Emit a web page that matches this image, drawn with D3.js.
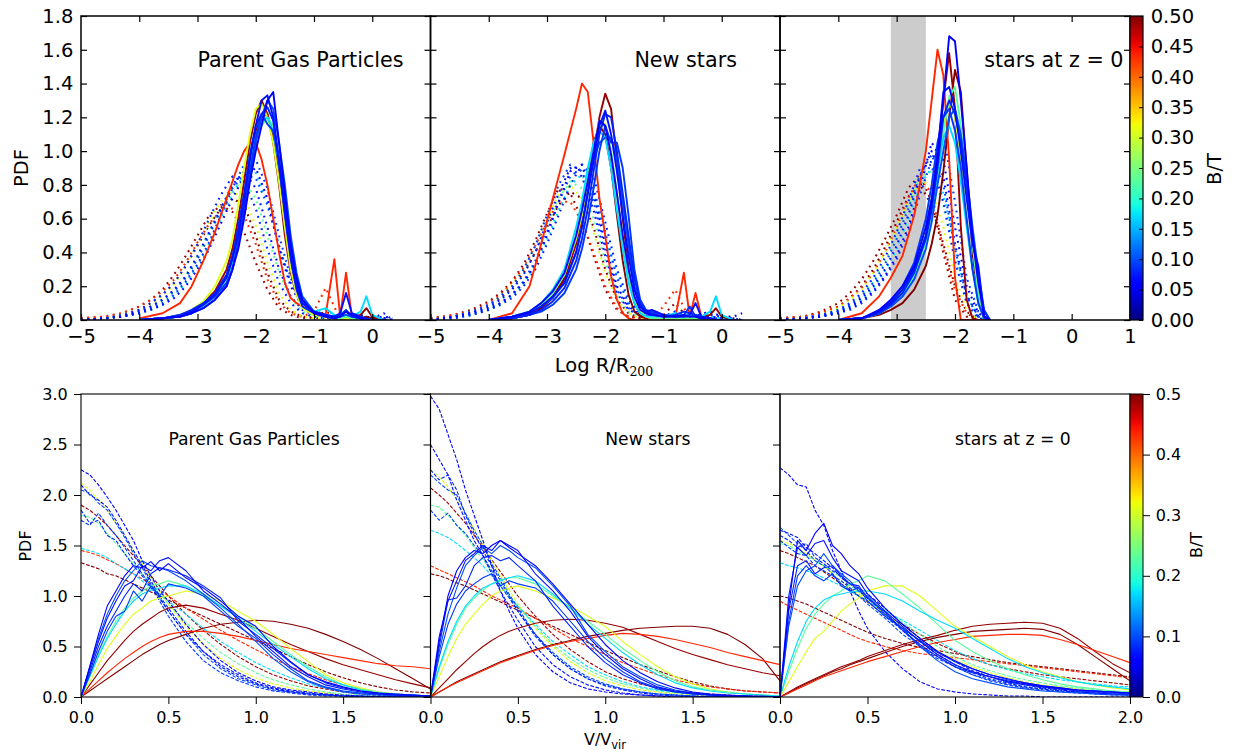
<!DOCTYPE html>
<html><head><meta charset="utf-8">
<script src="https://cdn.jsdelivr.net/npm/d3@7"></script>
<style>
body{margin:0;background:#fff}
svg{display:block;font-family:"DejaVu Sans",sans-serif}
</style>
</head><body>
<svg id="c" width="1235" height="754"></svg>
<script>
// Bulge-to-total ratio of each galaxy (sets the line colour)
const btValues = [0.06, 0.07, 0.08, 0.09, 0.10, 0.17, 0.23, 0.31, 0.435, 0.49, 0.50];

// Sampling grids
const logRSolidGrid = [-4.0,-3.6,-3.3,-3.1,-2.9,-2.7,-2.5,-2.4,-2.3,-2.2,-2.1,-2.0,-1.9,-1.8,-1.7,-1.6,-1.5,-1.4,-1.3,-1.2,-1.0,-0.8,-0.65,-0.55,-0.45,-0.35,-0.2,-0.1,0.0,0.2];
const logRDottedGrid = [-5.0,-4.6,-4.3,-4.0,-3.8,-3.6,-3.4,-3.2,-3.0,-2.8,-2.6,-2.4,-2.2,-2.0,-1.8,-1.6,-1.4,-1.2,-1.0,-0.8,-0.6,-0.4,-0.2,0.0,0.2,0.35];
const velocityGrid = [0,0.05,0.1,0.15,0.2,0.25,0.3,0.35,0.4,0.45,0.5,0.6,0.7,0.8,0.9,1.0,1.1,1.2,1.3,1.4,1.5,1.6,1.7,1.8,1.9,2.0];

// Tick values
const logRTicks = [-5,-4,-3,-2,-1,0,1];
const pdfTicksTop = [0,0.2,0.4,0.6,0.8,1.0,1.2,1.4,1.6,1.8];
const velTicks = [0,0.5,1.0,1.5,2.0];
const pdfTicksBottom = [0,0.5,1.0,1.5,2.0,2.5,3.0];
const cbarTicksTop = [0,0.05,0.1,0.15,0.2,0.25,0.3,0.35,0.4,0.45,0.5];
const cbarTicksBottom = [0,0.1,0.2,0.3,0.4,0.5];

// Shaded range of log R/R200 in the z = 0 panel
const bandLogR = [-3.1, -2.5];

// ---- radial PDFs: solid = one population, dotted = comparison population ----
const gasRadiusSolid = [
  [0,0.01,0.02,0.04,0.07,0.12,0.2,0.3,0.42,0.6,0.82,1.0,1.15,1.3,1.35,1.05,0.75,0.45,0.25,0.12,0.04,0.02,0.01,0.02,0.05,0.03,0.01,0,0,0],
  [0,0.01,0.02,0.05,0.09,0.15,0.25,0.36,0.5,0.7,0.95,1.15,1.3,1.33,1.2,0.95,0.65,0.38,0.2,0.1,0.05,0.03,0.02,0.04,0.16,0.04,0.02,0.01,0,0],
  [0,0.01,0.03,0.06,0.1,0.16,0.27,0.38,0.55,0.75,0.98,1.15,1.22,1.26,1.18,0.92,0.62,0.36,0.18,0.08,0.04,0.02,0.01,0.02,0.05,0.02,0.01,0,0,0],
  [0,0.01,0.03,0.05,0.09,0.14,0.22,0.3,0.45,0.65,0.88,1.08,1.22,1.16,1.12,0.95,0.7,0.42,0.22,0.1,0.05,0.03,0.02,0.03,0.06,0.02,0.01,0,0,0],
  [0,0.01,0.02,0.04,0.07,0.12,0.2,0.3,0.45,0.62,0.85,1.05,1.2,1.3,1.25,1.05,0.8,0.5,0.28,0.14,0.05,0.03,0.02,0.02,0.03,0.02,0.01,0,0,0],
  [0,0.01,0.02,0.04,0.08,0.14,0.22,0.32,0.48,0.68,0.9,1.08,1.18,1.2,1.12,0.92,0.65,0.4,0.22,0.12,0.05,0.07,0.03,0.02,0.03,0.02,0.05,0.14,0.03,0],
  [0,0.01,0.02,0.04,0.08,0.14,0.24,0.34,0.5,0.7,0.92,1.08,1.15,1.2,1.15,0.98,0.72,0.45,0.25,0.12,0.04,0.02,0.01,0.01,0.02,0.01,0,0,0,0],
  [0,0.01,0.03,0.06,0.11,0.2,0.35,0.48,0.68,0.9,1.1,1.25,1.28,1.2,1.05,0.82,0.55,0.3,0.15,0.07,0.03,0.02,0.01,0.01,0.01,0,0,0,0,0],
  [0.01,0.04,0.1,0.2,0.35,0.52,0.72,0.82,0.92,1.0,1.05,1.05,0.95,0.8,0.6,0.4,0.22,0.13,0.1,0.08,0.04,0.03,0.36,0.02,0.28,0.02,0.01,0,0,0],
  [0,0.01,0.02,0.05,0.1,0.17,0.3,0.42,0.6,0.82,1.05,1.22,1.3,1.22,1.05,0.8,0.5,0.28,0.15,0.08,0.04,0.02,0.01,0.01,0.01,0.02,0.03,0.07,0.02,0],
  [0,0.01,0.02,0.04,0.08,0.14,0.25,0.36,0.52,0.72,0.95,1.12,1.2,1.22,1.1,0.88,0.6,0.35,0.18,0.08,0.03,0.02,0.01,0.01,0.01,0.01,0.01,0.02,0.01,0]
];
const gasRadiusDotted = [
  [0,0.01,0.02,0.04,0.06,0.09,0.13,0.2,0.3,0.42,0.57,0.72,0.85,0.9,0.72,0.42,0.2,0.08,0.04,0.02,0.01,0.02,0.03,0.01,0.02,0.01],
  [0,0.01,0.02,0.05,0.08,0.12,0.18,0.26,0.38,0.52,0.66,0.8,0.88,0.78,0.55,0.3,0.14,0.06,0.03,0.02,0.01,0.01,0.01,0.02,0.01,0],
  [0,0.01,0.03,0.06,0.1,0.15,0.22,0.32,0.45,0.6,0.74,0.85,0.82,0.66,0.42,0.22,0.1,0.04,0.02,0.01,0.01,0.02,0.01,0.01,0.04,0],
  [0,0.01,0.02,0.04,0.07,0.1,0.15,0.23,0.33,0.46,0.62,0.78,0.92,0.95,0.78,0.5,0.25,0.1,0.04,0.02,0.01,0.01,0,0.02,0,0],
  [0,0.01,0.02,0.05,0.08,0.12,0.17,0.25,0.36,0.5,0.65,0.78,0.86,0.84,0.68,0.44,0.22,0.1,0.05,0.03,0.02,0.02,0.01,0.01,0.01,0],
  [0,0.01,0.02,0.04,0.06,0.09,0.14,0.22,0.32,0.45,0.6,0.75,0.86,0.87,0.7,0.44,0.22,0.1,0.04,0.06,0.02,0.01,0.02,0.01,0,0],
  [0,0.01,0.02,0.04,0.07,0.11,0.17,0.26,0.38,0.52,0.66,0.78,0.82,0.72,0.5,0.28,0.13,0.05,0.02,0.01,0.01,0,0,0,0,0],
  [0,0.01,0.03,0.06,0.09,0.14,0.21,0.32,0.45,0.58,0.7,0.76,0.72,0.56,0.34,0.16,0.06,0.02,0.01,0.01,0,0,0,0,0,0],
  [0.01,0.02,0.04,0.08,0.12,0.17,0.24,0.34,0.46,0.57,0.65,0.66,0.62,0.45,0.24,0.1,0.04,0.02,0.05,0.19,0.04,0.01,0,0,0,0],
  [0.01,0.02,0.04,0.08,0.12,0.18,0.27,0.38,0.5,0.62,0.68,0.64,0.52,0.34,0.18,0.07,0.03,0.01,0.02,0.05,0.02,0.01,0.01,0.01,0.01,0],
  [0,0.01,0.03,0.06,0.1,0.15,0.22,0.32,0.44,0.56,0.66,0.72,0.68,0.5,0.28,0.12,0.05,0.02,0.01,0.01,0,0,0,0,0,0]
];
const newRadiusSolid = [
  [0,0.02,0.05,0.1,0.17,0.28,0.5,0.65,0.82,1.0,1.18,1.15,0.98,0.75,0.5,0.3,0.14,0.06,0.04,0.03,0.02,0.02,0.03,0.02,0.02,0.01,0.01,0,0,0],
  [0,0.02,0.04,0.08,0.14,0.22,0.4,0.55,0.75,0.95,1.15,1.24,1.1,0.88,0.62,0.38,0.18,0.08,0.05,0.06,0.03,0.02,0.02,0.03,0.1,0.02,0.01,0,0,0],
  [0,0.01,0.03,0.06,0.11,0.19,0.35,0.48,0.66,0.88,1.1,1.22,1.2,1.0,0.75,0.5,0.25,0.1,0.05,0.04,0.02,0.03,0.05,0.04,0.03,0.02,0.01,0,0,0],
  [0,0.01,0.03,0.05,0.09,0.16,0.3,0.42,0.58,0.78,1.0,1.15,1.05,1.05,0.9,0.62,0.3,0.12,0.06,0.05,0.03,0.02,0.03,0.08,0.02,0.01,0.01,0,0,0],
  [0,0.02,0.04,0.08,0.13,0.22,0.4,0.55,0.75,0.95,1.05,1.08,1.08,0.95,0.7,0.45,0.2,0.08,0.04,0.03,0.02,0.02,0.02,0.02,0.03,0.02,0.01,0,0,0],
  [0,0.02,0.05,0.1,0.18,0.3,0.55,0.7,0.9,1.05,1.12,1.08,0.9,0.65,0.42,0.22,0.1,0.04,0.02,0.02,0.02,0.04,0.03,0.03,0.02,0.02,0.05,0.14,0.03,0],
  [0,0.02,0.05,0.09,0.16,0.27,0.5,0.65,0.85,1.02,1.15,1.15,1.0,0.75,0.48,0.25,0.1,0.04,0.02,0.01,0.01,0.01,0.01,0.01,0.01,0,0,0,0,0],
  [0,0.02,0.04,0.09,0.16,0.27,0.48,0.62,0.82,1.0,1.18,1.16,1.0,0.75,0.5,0.28,0.12,0.05,0.02,0.01,0.01,0.01,0,0,0,0,0,0,0,0],
  [0,0.04,0.2,0.45,0.72,0.98,1.25,1.4,1.35,1.05,0.72,0.5,0.26,0.12,0.04,0.01,0,0,0,0,0,0.01,0.28,0.02,0.16,0.02,0.01,0,0,0],
  [0,0.01,0.03,0.07,0.13,0.24,0.45,0.6,0.78,0.98,1.2,1.34,1.25,0.95,0.6,0.3,0.1,0.03,0.01,0.01,0.01,0.01,0.01,0.01,0.02,0.02,0.03,0.07,0.02,0],
  [0,0.01,0.03,0.07,0.14,0.25,0.47,0.62,0.85,1.05,1.15,1.1,0.9,0.62,0.35,0.15,0.05,0.02,0.01,0.01,0.01,0.01,0.01,0.01,0.01,0,0,0,0,0]
];
const newRadiusDotted = [
  [0,0.02,0.04,0.07,0.1,0.15,0.22,0.33,0.5,0.7,0.88,0.92,0.75,0.45,0.2,0.08,0.03,0.02,0.02,0.03,0.02,0.03,0.05,0.02,0.02,0.04],
  [0,0.02,0.04,0.08,0.12,0.18,0.27,0.4,0.58,0.75,0.9,0.85,0.65,0.38,0.16,0.06,0.03,0.02,0.02,0.02,0.02,0.02,0.02,0.01,0.01,0],
  [0,0.01,0.03,0.06,0.09,0.13,0.2,0.3,0.45,0.62,0.8,0.92,0.85,0.58,0.3,0.12,0.04,0.02,0.02,0.05,0.02,0.02,0.03,0.02,0.01,0],
  [0,0.02,0.05,0.09,0.14,0.2,0.3,0.44,0.62,0.8,0.92,0.88,0.7,0.42,0.18,0.07,0.03,0.02,0.02,0.03,0.02,0.01,0.01,0.01,0,0],
  [0,0.01,0.03,0.06,0.1,0.15,0.23,0.35,0.52,0.7,0.85,0.9,0.78,0.52,0.25,0.1,0.04,0.02,0.02,0.02,0.02,0.02,0.02,0.01,0,0],
  [0,0.01,0.03,0.06,0.09,0.14,0.22,0.33,0.48,0.65,0.8,0.86,0.75,0.5,0.26,0.1,0.04,0.02,0.02,0.05,0.03,0.02,0.02,0.01,0,0],
  [0,0.02,0.04,0.08,0.12,0.18,0.27,0.4,0.56,0.72,0.82,0.78,0.6,0.35,0.15,0.05,0.02,0.01,0.01,0.01,0,0,0,0,0,0],
  [0,0.02,0.05,0.09,0.14,0.21,0.3,0.44,0.6,0.74,0.8,0.72,0.52,0.28,0.12,0.04,0.01,0.01,0.01,0.01,0,0,0,0,0,0],
  [0.01,0.03,0.05,0.1,0.15,0.22,0.31,0.44,0.58,0.7,0.7,0.58,0.4,0.2,0.07,0.02,0.01,0.01,0.08,0.18,0.04,0.01,0,0,0,0],
  [0.01,0.03,0.06,0.11,0.16,0.23,0.33,0.47,0.63,0.78,0.75,0.6,0.38,0.18,0.06,0.02,0.01,0.01,0.03,0.1,0.02,0.01,0,0,0,0],
  [0.01,0.02,0.05,0.09,0.13,0.19,0.28,0.4,0.55,0.68,0.76,0.72,0.55,0.3,0.12,0.04,0.01,0.01,0.01,0.02,0,0,0,0,0,0]
];
const z0RadiusSolid = [
  [0,0.01,0.06,0.12,0.2,0.32,0.55,0.72,0.95,1.3,1.68,1.65,1.3,0.9,0.5,0.22,0.02,0],
  [0,0.01,0.05,0.1,0.18,0.3,0.5,0.7,0.98,1.35,1.38,1.25,1.0,0.72,0.45,0.32,0.02,0],
  [0,0.01,0.04,0.09,0.16,0.28,0.48,0.65,0.9,1.2,1.3,1.22,1.05,0.8,0.5,0.24,0.05,0],
  [0,0.01,0.05,0.11,0.2,0.34,0.6,0.8,1.05,1.2,1.25,1.12,0.9,0.6,0.3,0.1,0.01,0],
  [0,0.01,0.04,0.08,0.14,0.24,0.42,0.58,0.8,1.0,1.2,1.25,1.1,0.85,0.55,0.28,0.06,0],
  [0,0.01,0.04,0.09,0.16,0.28,0.5,0.66,0.88,1.08,1.15,1.05,0.82,0.55,0.3,0.1,0.01,0],
  [0,0.01,0.04,0.08,0.15,0.26,0.46,0.62,0.85,1.1,1.32,1.38,1.15,0.8,0.45,0.15,0.02,0],
  [0,0.01,0.05,0.1,0.18,0.31,0.55,0.72,0.95,1.15,1.3,1.2,0.95,0.6,0.3,0.1,0.01,0],
  [0,0.04,0.14,0.25,0.38,0.62,1.0,1.3,1.6,1.45,0.95,0.25,0,0,0,0,0,0],
  [0,0.01,0.04,0.08,0.14,0.25,0.48,0.7,1.0,1.3,1.58,1.25,0.55,0.12,0.01,0,0,0],
  [0,0.01,0.03,0.06,0.1,0.18,0.32,0.45,0.62,0.88,1.2,1.48,1.35,0.9,0.4,0.1,0.01,0]
];
const z0RadiusDotted = [
  [0,0.01,0.02,0.04,0.07,0.11,0.17,0.26,0.38,0.55,0.78,1.05,0.95,0.55,0.2,0.04,0],
  [0,0.01,0.02,0.05,0.08,0.13,0.2,0.3,0.44,0.62,0.85,1.0,0.85,0.45,0.15,0.02,0],
  [0,0.01,0.03,0.06,0.1,0.16,0.25,0.37,0.52,0.7,0.9,0.92,0.7,0.35,0.1,0.01,0],
  [0,0.01,0.02,0.04,0.06,0.1,0.16,0.25,0.36,0.52,0.74,0.95,1.1,0.7,0.25,0.05,0],
  [0,0.01,0.03,0.05,0.09,0.14,0.22,0.33,0.48,0.66,0.86,0.98,0.8,0.42,0.14,0.02,0],
  [0,0.01,0.02,0.05,0.08,0.12,0.19,0.29,0.42,0.6,0.8,0.9,0.75,0.42,0.14,0.02,0],
  [0,0.01,0.03,0.06,0.1,0.15,0.23,0.35,0.5,0.68,0.85,0.88,0.68,0.35,0.1,0.01,0],
  [0,0.01,0.03,0.07,0.12,0.18,0.28,0.4,0.55,0.7,0.82,0.8,0.55,0.25,0.06,0,0],
  [0.01,0.02,0.04,0.08,0.13,0.19,0.28,0.4,0.55,0.72,0.85,0.75,0.42,0.18,0.04,0,0],
  [0.01,0.02,0.05,0.1,0.16,0.24,0.35,0.48,0.62,0.78,0.86,0.7,0.4,0.12,0.02,0,0],
  [0.01,0.02,0.04,0.08,0.13,0.2,0.3,0.43,0.58,0.73,0.8,0.68,0.45,0.2,0.05,0,0]
];

// ---- velocity PDFs: solid = one population, dashed = comparison population ----
const gasVelSolid = [
  [0,0.3,0.62,0.9,1.05,1.2,1.3,1.28,1.34,1.25,1.32,1.18,1.08,0.95,0.8,0.7,0.5,0.35,0.22,0.15,0.1,0.06,0.04,0.03,0.02,0.01],
  [0,0.28,0.55,0.78,0.95,1.1,1.15,1.3,1.25,1.35,1.38,1.25,1.05,0.92,0.78,0.6,0.45,0.3,0.2,0.12,0.08,0.05,0.03,0.02,0.01,0.01],
  [0,0.25,0.5,0.7,0.85,1.0,1.12,1.05,1.22,1.28,1.26,1.2,1.1,0.98,0.75,0.62,0.48,0.34,0.22,0.14,0.09,0.06,0.04,0.02,0.02,0.01],
  [0,0.22,0.45,0.65,0.8,0.85,1.05,0.95,1.1,1.0,1.12,1.08,1.0,0.85,0.7,0.58,0.42,0.28,0.16,0.1,0.06,0.04,0.03,0.02,0.01,0.01],
  [0,0.3,0.58,0.82,1.0,1.15,1.25,1.35,1.3,1.28,1.25,1.15,1.02,0.88,0.72,0.55,0.38,0.25,0.15,0.09,0.05,0.03,0.02,0.01,0.01,0],
  [0,0.2,0.4,0.58,0.72,0.85,0.95,1.02,1.06,1.08,1.1,1.1,1.02,0.9,0.78,0.65,0.52,0.4,0.28,0.18,0.12,0.07,0.04,0.03,0.02,0.01],
  [0,0.22,0.42,0.6,0.75,0.88,0.98,1.05,1.1,1.12,1.15,1.1,1.0,0.9,0.8,0.68,0.55,0.42,0.3,0.2,0.12,0.08,0.05,0.03,0.02,0.01],
  [0,0.15,0.32,0.48,0.6,0.72,0.82,0.88,0.95,0.98,1.0,1.05,1.02,0.95,0.85,0.75,0.62,0.48,0.35,0.22,0.14,0.09,0.05,0.03,0.02,0.01],
  [0,0.08,0.16,0.24,0.31,0.38,0.44,0.5,0.55,0.59,0.62,0.65,0.65,0.63,0.6,0.56,0.52,0.48,0.45,0.42,0.39,0.36,0.33,0.31,0.3,0.28],
  [0,0.12,0.24,0.36,0.46,0.56,0.65,0.72,0.78,0.84,0.88,0.91,0.88,0.82,0.76,0.68,0.6,0.52,0.45,0.38,0.32,0.27,0.22,0.17,0.13,0.09],
  [0,0.06,0.12,0.18,0.24,0.3,0.36,0.42,0.47,0.52,0.56,0.62,0.68,0.72,0.74,0.76,0.75,0.72,0.68,0.62,0.55,0.47,0.38,0.28,0.18,0.08]
];
const gasVelDashed = [
  [2.25,2.2,2.1,1.98,1.85,1.7,1.55,1.35,1.2,1.05,0.95,0.72,0.52,0.36,0.24,0.16,0.1,0.07,0.05,0.03,0.02,0.01,0.01,0,0,0],
  [2.1,2.0,1.95,1.88,1.75,1.6,1.45,1.3,1.15,1.0,0.88,0.65,0.45,0.3,0.2,0.13,0.08,0.05,0.03,0.02,0.01,0.01,0,0,0,0],
  [1.85,1.72,1.75,1.6,1.55,1.42,1.3,1.2,1.08,0.98,0.85,0.62,0.45,0.32,0.22,0.14,0.09,0.06,0.04,0.02,0.01,0.01,0,0,0,0],
  [1.75,1.7,1.82,1.7,1.6,1.48,1.35,1.22,1.1,0.95,0.8,0.55,0.36,0.24,0.16,0.1,0.06,0.04,0.02,0.01,0.01,0,0,0,0,0],
  [2.05,2.02,1.92,1.85,1.72,1.58,1.42,1.28,1.12,0.98,0.85,0.62,0.42,0.28,0.18,0.12,0.07,0.05,0.03,0.02,0.01,0,0,0,0,0],
  [1.47,1.45,1.42,1.38,1.32,1.27,1.22,1.15,1.08,1.02,0.95,0.82,0.68,0.55,0.44,0.34,0.26,0.19,0.13,0.09,0.06,0.04,0.03,0.02,0.01,0.01],
  [1.8,1.78,1.72,1.62,1.52,1.42,1.32,1.22,1.12,1.02,0.92,0.74,0.58,0.44,0.33,0.24,0.17,0.12,0.08,0.05,0.03,0.02,0.01,0.01,0,0],
  [2.12,2.05,1.95,1.85,1.72,1.6,1.45,1.32,1.18,1.05,0.92,0.7,0.52,0.38,0.27,0.19,0.13,0.09,0.06,0.04,0.02,0.01,0.01,0,0,0],
  [1.45,1.43,1.4,1.36,1.32,1.27,1.22,1.17,1.12,1.06,1.0,0.88,0.77,0.66,0.56,0.47,0.38,0.3,0.23,0.17,0.12,0.08,0.05,0.03,0.02,0.01],
  [1.9,1.85,1.78,1.7,1.6,1.5,1.4,1.3,1.2,1.1,1.0,0.82,0.66,0.52,0.4,0.3,0.22,0.16,0.11,0.08,0.05,0.03,0.02,0.01,0.01,0],
  [1.33,1.3,1.27,1.22,1.2,1.16,1.12,1.08,1.04,1.0,0.96,0.88,0.8,0.72,0.64,0.56,0.48,0.4,0.32,0.25,0.19,0.14,0.1,0.07,0.05,0.04]
];
const newVelSolid = [
  [0,0.55,1.0,1.25,1.38,1.45,1.42,1.5,1.55,1.48,1.42,1.3,1.12,0.92,0.72,0.52,0.36,0.24,0.15,0.09,0.05,0.03,0.02,0.01,0.01,0],
  [0,0.6,0.95,1.15,1.35,1.42,1.5,1.45,1.55,1.5,1.45,1.22,1.05,0.85,0.6,0.42,0.28,0.18,0.1,0.06,0.04,0.02,0.01,0.01,0,0],
  [0,0.5,0.96,0.98,1.1,1.3,1.38,1.4,1.35,1.38,1.3,1.15,0.9,0.7,0.5,0.34,0.22,0.14,0.08,0.05,0.03,0.02,0.01,0.01,0,0],
  [0,0.4,0.72,0.92,1.05,1.12,1.18,1.22,1.1,1.15,1.12,1.08,0.95,0.75,0.55,0.38,0.25,0.15,0.09,0.05,0.03,0.02,0.01,0,0,0],
  [0,0.45,0.82,1.08,1.3,1.4,1.48,1.42,1.5,1.45,1.38,1.28,1.1,0.9,0.62,0.45,0.3,0.2,0.12,0.07,0.04,0.02,0.01,0.01,0,0],
  [0,0.3,0.55,0.75,0.9,1.0,1.08,1.12,1.15,1.18,1.2,1.15,1.02,0.88,0.72,0.58,0.44,0.32,0.22,0.14,0.09,0.06,0.04,0.03,0.02,0.01],
  [0,0.28,0.52,0.72,0.88,0.98,1.06,1.12,1.16,1.18,1.18,1.12,1.0,0.88,0.75,0.62,0.48,0.36,0.25,0.16,0.1,0.07,0.05,0.03,0.02,0.01],
  [0,0.2,0.4,0.58,0.72,0.82,0.92,1.0,1.05,1.08,1.1,1.05,0.98,0.9,0.8,0.7,0.55,0.42,0.3,0.2,0.13,0.08,0.05,0.03,0.02,0.01],
  [0,0.05,0.1,0.14,0.18,0.22,0.26,0.3,0.34,0.37,0.4,0.46,0.51,0.55,0.58,0.61,0.63,0.62,0.6,0.57,0.53,0.49,0.44,0.4,0.36,0.32],
  [0,0.09,0.18,0.27,0.35,0.43,0.5,0.56,0.61,0.65,0.68,0.73,0.76,0.77,0.76,0.73,0.69,0.62,0.55,0.48,0.42,0.37,0.32,0.28,0.24,0.21],
  [0,0.05,0.1,0.15,0.19,0.23,0.27,0.31,0.35,0.38,0.41,0.47,0.52,0.56,0.6,0.63,0.66,0.68,0.69,0.7,0.7,0.68,0.62,0.52,0.38,0.16]
];
const newVelDashed = [
  [2.98,2.85,2.6,2.35,2.05,1.8,1.55,1.3,1.05,0.85,0.68,0.42,0.25,0.14,0.08,0.05,0.03,0.02,0.01,0,0,0,0,0,0,0],
  [2.5,2.35,2.2,1.95,1.75,1.55,1.4,1.22,1.05,0.9,0.76,0.5,0.32,0.2,0.12,0.07,0.04,0.02,0.01,0.01,0,0,0,0,0,0],
  [2.25,2.15,2.2,2.05,1.8,1.62,1.45,1.3,1.15,1.0,0.85,0.62,0.42,0.28,0.18,0.11,0.07,0.04,0.02,0.01,0.01,0,0,0,0,0],
  [1.85,1.75,1.82,1.7,1.62,1.5,1.4,1.25,1.1,0.98,0.85,0.6,0.42,0.28,0.18,0.12,0.08,0.05,0.03,0.02,0.01,0,0,0,0,0],
  [2.2,2.12,2.05,2.0,1.82,1.65,1.5,1.32,1.18,1.02,0.88,0.62,0.44,0.3,0.2,0.13,0.08,0.05,0.03,0.02,0.01,0.01,0,0,0,0],
  [1.65,1.62,1.58,1.52,1.45,1.38,1.3,1.2,1.1,1.0,0.9,0.72,0.55,0.42,0.3,0.22,0.15,0.1,0.07,0.05,0.03,0.02,0.01,0.01,0,0],
  [1.9,1.88,1.8,1.7,1.6,1.48,1.36,1.24,1.12,1.0,0.9,0.7,0.52,0.38,0.27,0.19,0.13,0.09,0.06,0.04,0.03,0.02,0.01,0.01,0,0],
  [2.25,2.18,2.08,1.95,1.82,1.66,1.5,1.35,1.2,1.06,0.92,0.68,0.5,0.35,0.24,0.16,0.11,0.07,0.05,0.03,0.02,0.01,0.01,0,0,0],
  [1.3,1.26,1.22,1.18,1.14,1.1,1.05,1.0,0.96,0.92,0.88,0.78,0.68,0.58,0.5,0.42,0.34,0.28,0.22,0.17,0.13,0.1,0.08,0.06,0.05,0.04],
  [2.07,2.0,1.92,1.82,1.72,1.6,1.48,1.36,1.24,1.12,1.0,0.8,0.62,0.47,0.35,0.25,0.18,0.13,0.09,0.06,0.04,0.03,0.02,0.01,0.01,0],
  [1.22,1.2,1.17,1.13,1.1,1.06,1.02,0.98,0.94,0.9,0.86,0.78,0.7,0.62,0.54,0.46,0.39,0.32,0.26,0.2,0.15,0.11,0.08,0.06,0.05,0.04]
];
const z0VelSolid = [
  [0,0.9,1.55,1.45,1.62,1.72,1.5,1.42,1.3,1.22,1.08,0.88,0.72,0.58,0.45,0.36,0.28,0.22,0.18,0.14,0.11,0.09,0.07,0.06,0.05,0.04],
  [0,1.0,1.48,1.4,1.52,1.55,1.38,1.25,1.2,1.15,1.02,0.85,0.7,0.55,0.42,0.32,0.25,0.2,0.16,0.13,0.1,0.08,0.07,0.06,0.05,0.04],
  [0,0.85,1.3,1.35,1.22,1.28,1.3,1.2,1.12,1.1,0.98,0.84,0.66,0.52,0.4,0.3,0.24,0.2,0.15,0.12,0.1,0.08,0.06,0.05,0.04,0.03],
  [0,0.75,1.2,1.3,1.2,1.15,1.22,1.1,1.05,1.08,0.95,0.8,0.68,0.56,0.44,0.35,0.28,0.22,0.17,0.14,0.11,0.09,0.07,0.06,0.05,0.04],
  [0,0.7,1.1,1.25,1.3,1.42,1.3,1.22,1.15,1.05,1.0,0.82,0.68,0.5,0.36,0.25,0.18,0.14,0.1,0.08,0.06,0.05,0.04,0.03,0.02,0.02],
  [0,0.3,0.55,0.75,0.88,0.96,1.0,1.02,1.04,1.05,1.05,1.02,0.95,0.85,0.76,0.68,0.58,0.48,0.38,0.3,0.24,0.19,0.15,0.12,0.1,0.08],
  [0,0.25,0.48,0.68,0.82,0.92,1.0,1.05,1.12,1.15,1.2,1.15,1.02,0.88,0.72,0.56,0.45,0.36,0.28,0.22,0.17,0.13,0.1,0.08,0.06,0.05],
  [0,0.15,0.3,0.45,0.58,0.65,0.75,0.85,0.92,0.98,1.05,1.1,1.1,1.0,0.85,0.7,0.6,0.5,0.4,0.32,0.25,0.2,0.15,0.12,0.09,0.07],
  [0,0.04,0.08,0.12,0.16,0.2,0.23,0.26,0.29,0.32,0.35,0.4,0.45,0.5,0.54,0.57,0.6,0.61,0.62,0.62,0.61,0.57,0.52,0.46,0.4,0.34],
  [0,0.05,0.1,0.14,0.18,0.22,0.26,0.3,0.33,0.36,0.4,0.46,0.52,0.57,0.61,0.66,0.7,0.72,0.73,0.74,0.73,0.68,0.58,0.45,0.33,0.24],
  [0,0.04,0.09,0.13,0.17,0.21,0.25,0.28,0.32,0.35,0.38,0.44,0.5,0.55,0.59,0.62,0.65,0.66,0.67,0.68,0.67,0.62,0.52,0.4,0.28,0.16]
];
const z0VelDashed = [
  [2.27,2.2,2.1,2.08,1.85,1.7,1.45,1.25,1.05,0.85,0.68,0.45,0.28,0.15,0.08,0.05,0.03,0.02,0.01,0.01,0,0,0,0,0,0],
  [1.65,1.62,1.58,1.48,1.42,1.35,1.28,1.18,1.12,1.08,1.02,0.88,0.72,0.58,0.45,0.35,0.26,0.2,0.15,0.12,0.09,0.07,0.05,0.04,0.03,0.02],
  [1.6,1.55,1.48,1.52,1.38,1.32,1.25,1.2,1.12,1.05,0.98,0.82,0.68,0.55,0.42,0.32,0.24,0.18,0.14,0.1,0.08,0.06,0.05,0.04,0.03,0.02],
  [1.55,1.48,1.42,1.4,1.3,1.25,1.2,1.15,1.08,1.0,0.95,0.8,0.66,0.5,0.38,0.3,0.22,0.16,0.12,0.09,0.07,0.05,0.04,0.03,0.02,0.02],
  [1.68,1.6,1.52,1.45,1.35,1.3,1.22,1.12,1.05,1.0,0.92,0.78,0.62,0.5,0.4,0.3,0.22,0.17,0.13,0.1,0.08,0.06,0.05,0.04,0.03,0.02],
  [1.33,1.3,1.28,1.25,1.22,1.18,1.14,1.1,1.05,1.0,0.95,0.85,0.76,0.66,0.56,0.46,0.38,0.32,0.27,0.23,0.2,0.17,0.15,0.13,0.11,0.1],
  [1.52,1.5,1.45,1.4,1.35,1.3,1.24,1.18,1.1,1.04,0.98,0.86,0.74,0.62,0.5,0.4,0.32,0.26,0.21,0.17,0.14,0.11,0.09,0.07,0.06,0.05],
  [1.55,1.52,1.48,1.42,1.36,1.3,1.22,1.15,1.08,1.02,0.96,0.82,0.7,0.58,0.46,0.37,0.3,0.24,0.19,0.15,0.12,0.1,0.08,0.06,0.05,0.04],
  [0.95,0.9,0.86,0.82,0.78,0.74,0.7,0.66,0.62,0.58,0.55,0.5,0.46,0.43,0.41,0.39,0.37,0.35,0.33,0.31,0.29,0.27,0.25,0.23,0.21,0.19],
  [1.45,1.42,1.38,1.34,1.3,1.24,1.18,1.12,1.06,1.0,0.94,0.82,0.72,0.62,0.53,0.45,0.38,0.32,0.28,0.25,0.22,0.2,0.18,0.16,0.14,0.12],
  [1.0,0.98,0.95,0.92,0.88,0.84,0.8,0.76,0.72,0.68,0.64,0.58,0.53,0.49,0.46,0.43,0.4,0.37,0.34,0.32,0.3,0.28,0.26,0.24,0.22,0.2]
];

// ---------------------------------------------------------------------------
const svg = d3.select("#c");
const defs = svg.append("defs");

// jet colour map built from piecewise-linear channel scales
const jetR = d3.scaleLinear().domain([0,0.35,0.66,0.89,1]).range([0,0,1,1,0.5]).clamp(true);
const jetG = d3.scaleLinear().domain([0,0.125,0.375,0.64,0.91,1]).range([0,0,1,1,0,0]).clamp(true);
const jetB = d3.scaleLinear().domain([0,0.11,0.34,0.65,1]).range([0.5,1,1,0,0]).clamp(true);
const btNorm = d3.scaleLinear().domain([0,0.5]).range([0,1]).clamp(true);
const jet = t => d3.rgb(jetR(t)*255, jetG(t)*255, jetB(t)*255).formatHex();
const btColor = bt => jet(btNorm(bt));

const grad = defs.append("linearGradient").attr("id","jetGrad")
  .attr("x1",0).attr("y1",1).attr("x2",0).attr("y2",0);
d3.range(0, 1.0001, 0.02).forEach(t => grad.append("stop").attr("offset", t).attr("stop-color", jet(t)));

const colEdges = [81, 430.5, 780, 1130];
const fmt1 = d3.format(".1f"), fmt2 = d3.format(".2f"), fmtInt = d3.format("d");

function styleAxis(a, fontSize, lw){
  a.attr("font-size", null).attr("font-family", null);
  a.select(".domain").remove();
  a.selectAll("line").attr("stroke","#000").attr("stroke-width", lw);
  a.selectAll("text").attr("fill","#000").style("font-size", fontSize + "px");
}

function drawCurves(g, x, y, xs, set, style){
  const line = d3.line().x(d => x(d[0])).y(d => y(d[1]));
  for (let k = set.length - 1; k >= 0; k--) {
    const pts = set[k].map((v, i) => [xs[i], v]).filter(d => d[0] !== undefined);
    g.append("path").attr("d", line(pts)).attr("fill","none")
      .attr("stroke", btColor(btValues[k]))
      .attr("stroke-width", style.width)
      .attr("stroke-dasharray", style.dash || null)
      .attr("stroke-linejoin","round");
  }
}

// ---------------- top row: radial distributions ----------------
const topPanels = [
  {solid: gasRadiusSolid, dotted: gasRadiusDotted, title: "Parent Gas Particles", titleAt: -3.0},
  {solid: newRadiusSolid, dotted: newRadiusDotted, title: "New stars", titleAt: -1.5},
  {solid: z0RadiusSolid, dotted: z0RadiusDotted, title: "stars at z = 0", titleAt: -1.5, band: bandLogR}
];
const topY0 = 320, topY1 = 16, topFont = 19.5, topTitleFont = 20.7;
topPanels.forEach((p, i) => {
  const x = d3.scaleLinear().domain([-5, 1]).range([colEdges[i], colEdges[i+1]]);
  const y = d3.scaleLinear().domain([0, 1.8]).range([topY0, topY1]);
  const g = svg.append("g");
  defs.append("clipPath").attr("id", "ct" + i).append("rect")
    .attr("x", x.range()[0]).attr("y", topY1).attr("width", x.range()[1] - x.range()[0]).attr("height", topY0 - topY1);
  const body = g.append("g").attr("clip-path", `url(#ct${i})`);
  if (p.band) {
    body.append("rect").attr("x", x(p.band[0])).attr("y", topY1)
      .attr("width", x(p.band[1]) - x(p.band[0])).attr("height", topY0 - topY1).attr("fill", "#cccccc");
  }
  drawCurves(body, x, y, logRDottedGrid, p.dotted, {width: 2.1, dash: "1.8,4.6"});
  drawCurves(body, x, y, logRSolidGrid, p.solid, {width: 1.9});

  const xt = i === 2 ? logRTicks : logRTicks.slice(0, 6);
  g.append("g").attr("transform", `translate(0,${topY0})`)
    .call(d3.axisBottom(x).tickValues(xt).tickSizeInner(-6).tickSizeOuter(0).tickPadding(9).tickFormat(fmtInt))
    .call(a => styleAxis(a, topFont, 1.2));
  g.append("g").attr("transform", `translate(0,${topY1})`)
    .call(d3.axisTop(x).tickValues(logRTicks.slice(1, 6)).tickSizeInner(-6).tickSizeOuter(0).tickFormat(""))
    .call(a => styleAxis(a, topFont, 1.2));
  g.append("g").attr("transform", `translate(${x.range()[0]},0)`)
    .call(d3.axisLeft(y).tickValues(pdfTicksTop).tickSizeInner(-6).tickSizeOuter(0).tickPadding(7.7).tickFormat(i === 0 ? fmt1 : ""))
    .call(a => styleAxis(a, topFont, 1.2));
  g.append("g").attr("transform", `translate(${x.range()[1]},0)`)
    .call(d3.axisRight(y).tickValues(pdfTicksTop).tickSizeInner(-6).tickSizeOuter(0).tickFormat(""))
    .call(a => styleAxis(a, topFont, 1.2));
  g.append("rect").attr("x", x.range()[0]).attr("y", topY1)
    .attr("width", x.range()[1] - x.range()[0]).attr("height", topY0 - topY1)
    .attr("fill","none").attr("stroke","#000").attr("stroke-width", 1.5);
  g.append("text").attr("x", x(p.titleAt)).attr("y", 67).attr("font-size", topTitleFont).text(p.title);
});

// top colour bar
{
  const cb = d3.scaleLinear().domain([0, 0.5]).range([topY0, topY1]);
  const g = svg.append("g");
  g.append("rect").attr("x", 1130).attr("y", topY1).attr("width", 13).attr("height", topY0 - topY1)
    .attr("fill", "url(#jetGrad)").attr("stroke", "#000").attr("stroke-width", 1.2);
  g.append("g").attr("transform", "translate(1143,0)")
    .call(d3.axisRight(cb).tickValues(cbarTicksTop).tickSizeInner(-4).tickSizeOuter(0).tickPadding(7.7).tickFormat(fmt2))
    .call(a => styleAxis(a, topFont, 1));
  g.append("text").attr("transform", "translate(1221,169) rotate(-90)").attr("text-anchor","middle")
    .attr("font-size", topFont).text("B/T");
}
svg.append("text").attr("transform", "translate(28,168) rotate(-90)").attr("text-anchor","middle")
  .attr("font-size", topFont).text("PDF");
{
  const t = svg.append("text").attr("x", 604).attr("y", 372).attr("text-anchor","middle").attr("font-size", topFont);
  t.append("tspan").text("Log R/R");
  t.append("tspan").attr("dy", 4).attr("font-size", 12.5).attr("font-family", "DejaVu Serif").text("200");
}

// ---------------- bottom row: velocity distributions ----------------
const bottomPanels = [
  {solid: gasVelSolid, dashed: gasVelDashed, title: "Parent Gas Particles", titleAt: 0.5},
  {solid: newVelSolid, dashed: newVelDashed, title: "New stars", titleAt: 1.0},
  {solid: z0VelSolid, dashed: z0VelDashed, title: "stars at z = 0", titleAt: 1.0}
];
const botY0 = 697, botY1 = 394, botFont = 16, botTitleFont = 17.2;
bottomPanels.forEach((p, i) => {
  const x = d3.scaleLinear().domain([0, 2]).range([colEdges[i], colEdges[i+1]]);
  const y = d3.scaleLinear().domain([0, 3]).range([botY0, botY1]);
  const g = svg.append("g");
  defs.append("clipPath").attr("id", "cb" + i).append("rect")
    .attr("x", x.range()[0]).attr("y", botY1).attr("width", x.range()[1] - x.range()[0]).attr("height", botY0 - botY1);
  const body = g.append("g").attr("clip-path", `url(#cb${i})`);
  drawCurves(body, x, y, velocityGrid, p.dashed, {width: 1.1, dash: "3.7,1.6"});
  drawCurves(body, x, y, velocityGrid, p.solid, {width: 1.1});

  const xt = i === 2 ? velTicks : velTicks.slice(0, 4);
  g.append("g").attr("transform", `translate(0,${botY0})`)
    .call(d3.axisBottom(x).tickValues(xt).tickSizeInner(7).tickSizeOuter(0).tickPadding(8).tickFormat(fmt1))
    .call(a => styleAxis(a, botFont, 1));
  g.append("g").attr("transform", `translate(${x.range()[0]},0)`)
    .call(d3.axisLeft(y).tickValues(pdfTicksBottom).tickSizeInner(7).tickSizeOuter(0).tickPadding(6.3).tickFormat(i === 0 ? fmt1 : ""))
    .call(a => styleAxis(a, botFont, 1));
  g.append("rect").attr("x", x.range()[0]).attr("y", botY1)
    .attr("width", x.range()[1] - x.range()[0]).attr("height", botY0 - botY1)
    .attr("fill","none").attr("stroke","#000").attr("stroke-width", 1.1);
  g.append("text").attr("x", x(p.titleAt)).attr("y", 445).attr("font-size", botTitleFont).text(p.title);
});

// bottom colour bar
{
  const cb = d3.scaleLinear().domain([0, 0.5]).range([botY0, botY1]);
  const g = svg.append("g");
  g.append("rect").attr("x", 1130).attr("y", botY1).attr("width", 13).attr("height", botY0 - botY1)
    .attr("fill", "url(#jetGrad)").attr("stroke", "#000").attr("stroke-width", 1);
  g.append("g").attr("transform", "translate(1143,0)")
    .call(d3.axisRight(cb).tickValues(cbarTicksBottom).tickSizeInner(7).tickSizeOuter(0).tickPadding(5.7).tickFormat(fmt1))
    .call(a => styleAxis(a, botFont, 1));
  g.append("text").attr("transform", "translate(1202,545) rotate(-90)").attr("text-anchor","middle")
    .attr("font-size", botFont).text("B/T");
}
svg.append("text").attr("transform", "translate(31,546) rotate(-90)").attr("text-anchor","middle")
  .attr("font-size", botFont).text("PDF");
{
  const t = svg.append("text").attr("x", 605).attr("y", 745).attr("text-anchor","middle").attr("font-size", botFont);
  t.append("tspan").text("V/V");
  t.append("tspan").attr("dy", 4).attr("font-size", 11.5).text("vir");
}
</script>
</body></html>
